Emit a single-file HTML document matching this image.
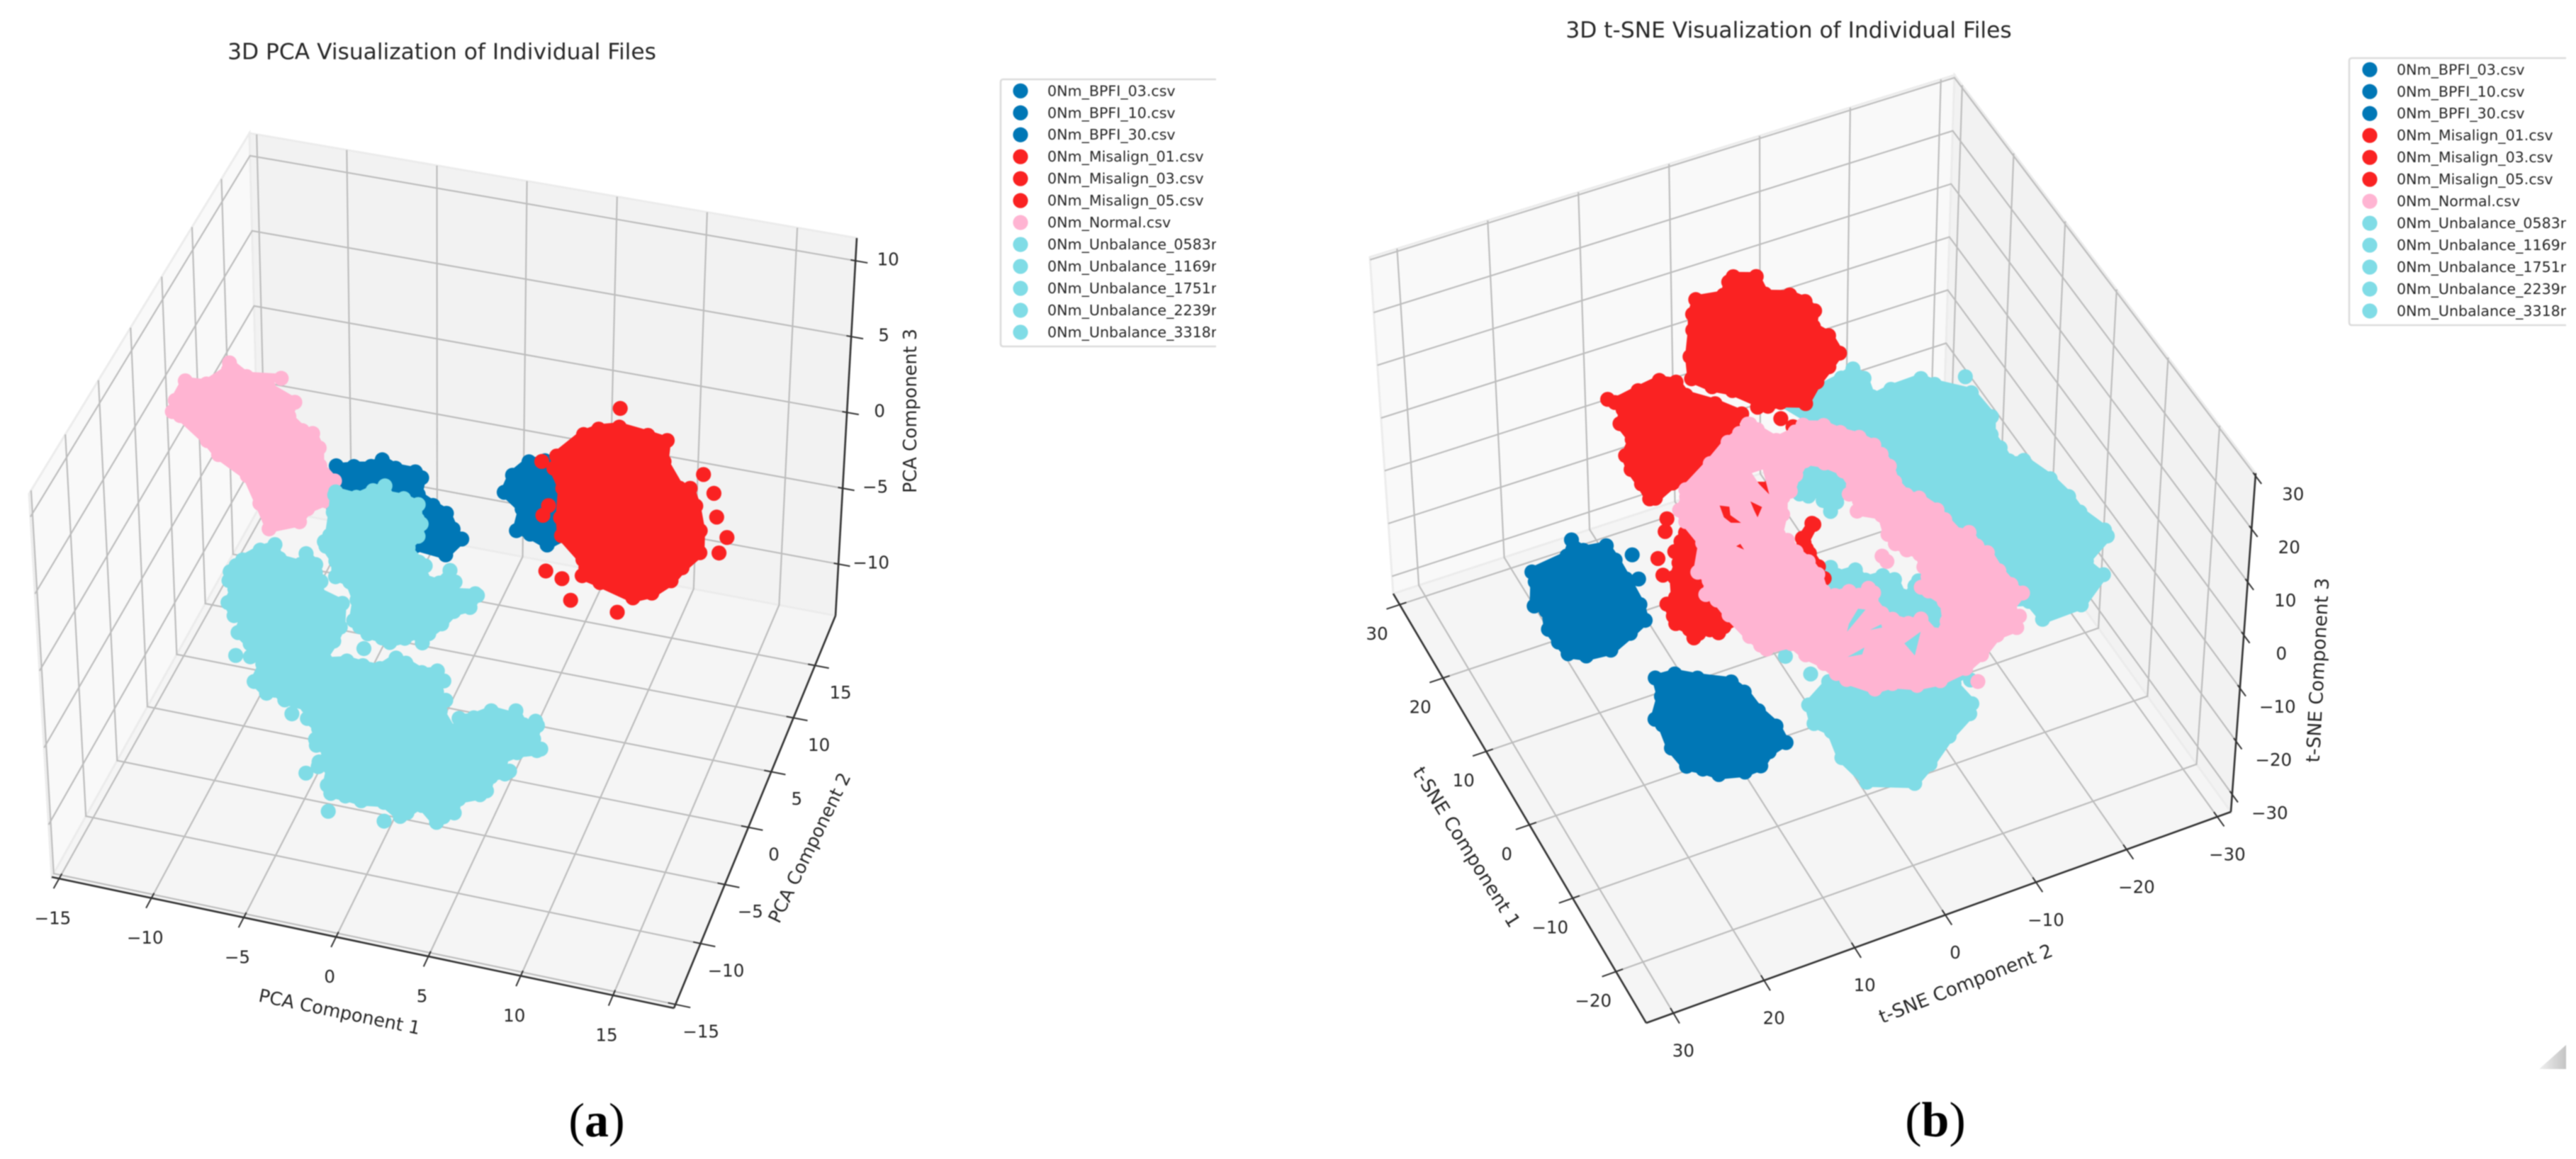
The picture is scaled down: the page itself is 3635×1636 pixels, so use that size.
<!DOCTYPE html>
<html lang="en">
<head>
<meta charset="utf-8">
<title>3D PCA and t-SNE Visualization of Individual Files</title>
<style>
html,body{margin:0;padding:0;background:#fff;}
#figure{display:block;filter:blur(0.9px);}
text{font-family:"DejaVu Sans","Liberation Sans",sans-serif;fill:#262626;}
.caption{font-family:"Liberation Serif",serif;fill:#000;}
</style>
</head>
<body>
<svg id="figure" xmlns="http://www.w3.org/2000/svg" width="3635" height="1636" viewBox="0 0 3635 1636">
  <defs>
    <clipPath id="clip-legend-a"><rect x="1400" y="100" width="316" height="400"/></clipPath>
    <clipPath id="clip-legend-b"><rect x="3300" y="70" width="321" height="400"/></clipPath>
    <linearGradient id="corner-fill" x1="0" y1="0" x2="1" y2="0"><stop offset="0" stop-color="#efefef"/><stop offset="1" stop-color="#c4c4c4"/></linearGradient>
  </defs>
  <rect x="0" y="0" width="3635" height="1636" fill="#fff"/>
  <g id="panel-a"></g>
  <g id="panel-b"></g>
  <g id="legend-a" clip-path="url(#clip-legend-a)"></g>
  <g id="legend-b" clip-path="url(#clip-legend-b)"></g>
  <text class="caption" x="842" y="1604" text-anchor="middle" font-size="68">(<tspan font-weight="bold">a</tspan>)</text>
  <text class="caption" x="2731" y="1604" text-anchor="middle" font-size="70">(<tspan font-weight="bold">b</tspan>)</text>
  <polygon points="3583,1509 3621,1509 3621,1475" fill="url(#corner-fill)"/>
</svg>
<script>
/* ---------- legend ---------- */
const legendLabels = ["0Nm_BPFI_03.csv","0Nm_BPFI_10.csv","0Nm_BPFI_30.csv","0Nm_Misalign_01.csv","0Nm_Misalign_03.csv","0Nm_Misalign_05.csv","0Nm_Normal.csv","0Nm_Unbalance_0583rpm.csv","0Nm_Unbalance_1169rpm.csv","0Nm_Unbalance_1751rpm.csv","0Nm_Unbalance_2239rpm.csv","0Nm_Unbalance_3318rpm.csv"];

/* ---------- tick labels ---------- */
const pcaXTicks = [-15,-10,-5,0,5,10,15];
const pcaYTicks = [-15,-10,-5,0,5,10,15];
const pcaZTicks = [-10,-5,0,5,10];
const tsneXTicks = [-20,-10,0,10,20,30];
const tsneYTicks = [-30,-20,-10,0,10,20,30];
const tsneZTicks = [-30,-20,-10,0,10,20,30];

/* ---------- PCA series: [component1, component2, component3] ---------- */
const pcaNormal = [[-10.1,0,10.7],[-9.2,0,10],[-7.3,0,10.3],[-7.9,0,9.5],[-6.5,0,8.8],[-6.8,0,7.7],[-6.2,0,7.1],[-5.6,0,7],[-5.2,0,6],[-5.2,0,4.9],[-4.4,0,4],[-4.9,0,2.3],[-6,0,1.5],[-6.5,0,0.5],[-8.4,0,-0.4],[-9,0,1.3],[-9.6,0,2.9],[-11.1,0,3.9],[-11.7,0,4.7],[-13.1,0,6],[-13.6,0,6.3],[-13.4,0,7.3],[-12.7,0,8.9],[-11.5,0,9],[-10.4,0,10.1]];
const pcaBpfiRight = [[-6.4,5,1.2],[-5.2,5,1.6],[-4.3,5,1.8],[-3.6,5,2.4],[-2.8,5,2],[-1.7,5,2],[-1.2,5,1.5],[-1.4,5,0.4],[-0.7,5,0],[0.1,5,-0.4],[0.5,5,-1.4],[1,5,-2.2],[-0.1,5,-3.7],[-1.9,5,-3.5],[-5.2,5,-2.9],[-6.6,5,-1.9]];
const pcaBpfiLeft = [[2.8,5,1.3],[3.3,5,2.8],[4.3,5,4],[5.4,5,4.3],[7.6,5,2.7],[7.6,5,0],[5.5,5,-1.8],[4.4,5,-1.3],[3.5,5,-1.1],[3.8,5,0.4]];
const pcaMisalign = [[5.7,5,4.6],[7.2,5,6.4],[8.1,5,7],[9.3,5,7.4],[10.9,5,7.2],[12.1,5,7],[12,5,5.5],[12.8,5,4.1],[13.4,5,4.2],[13.8,5,3],[14.1,5,1.4],[14.1,5,-0.2],[13.1,5,-1.5],[12.5,5,-2.5],[11.4,5,-3.6],[10.2,5,-4.2],[8.3,5,-3.6],[7.2,5,-3.3],[7.2,5,-2.2],[6,5,-0.9],[5.9,5,0.4],[6,5,2.3],[5.5,5,3.5]];
const pcaMisalignStray = [[9.3,5,8.3],[5.1,5,3.9],[13.9,5,5],[14.5,5,3.9],[14.7,5,2.4],[15.3,5,1.2],[14.9,5,0.1],[5.4,5,-3.2],[6.3,5,-3.5],[6.8,5,-4.8],[9.4,5,-5],[5.2,5,0.4],[5.5,5,1.1]];
const pcaUnbalanceUpper = [[-3,-5,7.4],[-1.9,-5,7.3],[-1.1,-5,7.9],[-0.3,-5,8.4],[-0.2,-5,7.8],[0.7,-5,7.8],[1.6,-5,7.5],[1.6,-5,6.4],[1.8,-5,6.1],[1.6,-5,5.1],[1.1,-5,4.4],[1.6,-5,3.8],[2,-5,3.5],[1.8,-5,2.8],[2.4,-5,2.7],[3.1,-5,3.7],[3.6,-5,2.8],[3.3,-5,2.3],[4.5,-5,2.5],[4.8,-5,2.1],[4.3,-5,1],[3.4,-5,0.5],[2.8,-5,-0.4],[2.1,-5,-1.2],[1.6,-5,-2],[1.3,-5,-1.5],[0.7,-5,-1.9],[-0.2,-5,-2.4],[-0.7,-5,-2.2],[-1.5,-5,-2.1],[-2,-5,-1.7],[-2.4,-5,-1.2],[-2.2,-5,0.2],[-2.5,-5,1.1],[-3.3,-5,1.3],[-3.3,-5,2.4],[-3.8,-5,3.2],[-3.9,-5,3.7],[-3.6,-5,4.2],[-3.4,-5,5.7],[-3.3,-5,6.9]];
const pcaUnbalanceLower = [[-8.2,-5,1.7],[-7.2,-5,2.6],[-6.2,-5,3.2],[-5.9,-5,2.3],[-5,-5,2.2],[-4.6,-5,3],[-3.9,-5,2.3],[-3.9,-5,1.7],[-3.6,-5,1.1],[-3.9,-5,0.6],[-2.5,-5,0.1],[-2.6,-5,-1.7],[-3,-5,-2.8],[-3.5,-5,-3.8],[-2.5,-5,-3.5],[-1.6,-5,-3.6],[-0.8,-5,-3.6],[0.1,-5,-2.7],[0.8,-5,-2.9],[1.6,-5,-3.3],[2.5,-5,-3],[3,-5,-3.8],[2.6,-5,-4.6],[3.1,-5,-5],[2.8,-5,-5.8],[3.3,-5,-6.7],[3.4,-5,-5.9],[4.3,-5,-5.6],[5.3,-5,-4.9],[6.5,-5,-5],[6.8,-5,-4.6],[7.2,-5,-5.4],[7.8,-5,-5],[8.1,-5,-5.5],[7.9,-5,-6.4],[8.3,-5,-7],[7.9,-5,-7.5],[6.8,-5,-7.9],[6.1,-5,-8.4],[6.6,-5,-8.8],[6.2,-5,-9.4],[5.5,-5,-9.7],[5.3,-5,-10.6],[4.8,-5,-11.1],[3.7,-5,-11.6],[3.5,-5,-12.5],[2.8,-5,-13],[2.2,-5,-13.5],[1.4,-5,-12.6],[0.8,-5,-13.2],[0.2,-5,-13.6],[-0.7,-5,-12.9],[-1.9,-5,-13.1],[-2.8,-5,-13],[-3.7,-5,-13],[-4,-5,-12.3],[-3.8,-5,-11.2],[-4.4,-5,-11.4],[-4.4,-5,-10.7],[-3.9,-5,-10.2],[-4.5,-5,-10],[-4.6,-5,-9.4],[-4.4,-5,-8.8],[-5,-5,-8.3],[-4.9,-5,-7.6],[-6.1,-5,-7.5],[-6.6,-5,-7],[-7.1,-5,-7.3],[-7.9,-5,-6.5],[-7.4,-5,-5.2],[-8,-5,-4.2],[-8.7,-5,-3.5],[-8.3,-5,-2.3],[-8.8,-5,-2.6],[-9.2,-5,-1.6],[-8.8,-5,-0.6],[-9.1,-5,-0.2],[-9,-5,0.6],[-8.6,-5,1.2]];
const pcaUnbalanceStray = [[-8.6,-5,-4.9],[-7.8,-5,-4.8],[-5.6,-5,-8],[-4.9,-5,-11.7],[-3.7,-5,-13.9],[-0.6,-5,-13.8],[-1.6,-5,-2.8]];

/* ---------- t-SNE series: [component1, component2, component3] ---------- */
const tsneMisalignTop = [[29.3,-5.7,10],[28.3,-8.1,10],[25.9,-7.8,10],[25,-9.9,10],[23.5,-11,10],[21.7,-11.3,10],[20,-10.2,10],[18.5,-11,10],[15.6,-10.8,10],[14.1,-8.7,10],[12.8,-6.7,10],[10.6,-4.1,10],[11.7,-1.7,10],[11.8,-0.2,10],[15,2.1,10],[16.2,3.7,10],[18.2,5.2,10],[21.2,3.9,10],[24.2,2,10],[26.1,1,10],[28,-0.6,10],[27.5,-3.5,10],[28.7,-4.5,10]];
const tsneMisalignMid = [[19.1,14.1,10],[19.1,13,10],[19.6,10.2,10],[20,7.5,10],[19,5.8,10],[17.1,5.7,10],[15.1,3.6,10],[12.6,1.7,10],[10.8,3.6,10],[8.6,6.4,10],[6.9,9.8,10],[6.5,12.6,10],[5.4,15.1,10],[5.8,16.1,10],[8,16,10],[10.1,16.1,10],[12.2,15.7,10],[13.7,14.2,10],[15.9,14.4,10],[17.3,13.3,10]];
const tsneMisalignLow = [[1.4,14.5,10],[0.5,15.5,10],[-0.6,16.8,10],[-2.1,17.1,10],[-3.5,18.3,10],[-5.8,19.3,10],[-6.3,20.5,10],[-8.2,20.7,10],[-9.4,20.9,10],[-10.6,20,10],[-11.9,20,10],[-11.7,19,10],[-11.7,18,10],[-12.4,17.3,10],[-11.9,16.3,10],[-11.6,14.6,10],[-11.7,6.9,10],[-9.3,5.6,10],[-6.4,6.4,10],[-2.8,6.5,10],[3.3,3.3,10],[5.1,7.4,10],[2.9,11.7,10]];
const tsneMisalignInner = [[-2.3,2.5,10],[-3.3,2,10],[-5.1,4,10],[-6.1,4,10],[-8.1,4,10],[-10.3,4.8,10],[-8.2,5.3,10],[-6.2,6.2,10],[-5.3,4.9,10],[-3.9,4.6,10]];
const tsneMisalignStray = [[12.6,0.4,10],[10.4,-1,10],[9,-1.6,10],[1.8,16.1,10],[-3.1,18.8,10],[-1,18.3,10],[3.2,15.2,10]];
const tsneBpfiLeft = [[5,24.9,10],[3.3,24.2,10],[2.9,21.8,10],[0.6,21.7,10],[-2,21.8,10],[-5.5,22,10],[-7.9,22.6,10],[-9,24.9,10],[-10.2,27.7,10],[-9.9,30.4,10],[-8.8,32.1,10],[-6.9,32.4,10],[-4.9,32.6,10],[-2.8,31.8,10],[-1.7,32.6,10],[1.2,31.1,10],[2.8,30.5,10],[3.3,26.4,10]];
const tsneBpfiLeftStray = [[0.4,20.4,10],[-2.6,21.2,10]];
const tsneBpfiLower = [[-1.9,19.8,-10],[-2.1,17.3,-10],[-3.5,15.4,-10],[-5.3,12.5,-10],[-7.2,11.8,-10],[-9.9,11.6,-10],[-12.4,10.9,-10],[-15.2,11.1,-10],[-15.8,13.4,-10],[-17.1,15,-10],[-17.2,17,-10],[-16.4,19.6,-10],[-15.1,20.8,-10],[-14,22.2,-10],[-11.1,22.6,-10],[-8.1,22.1,-10],[-6.9,22.4,-10],[-4.5,20.5,-10]];
const tsneUnbalanceUpper = [[12.4,-1.4,10],[12.8,-5.5,10],[13.4,-9,10],[14,-10.9,10],[12.1,-11.5,10],[9.9,-11,10],[10.2,-12.8,10],[10.3,-16.3,10],[9,-17.3,10],[6.5,-20.1,10],[2.6,-20.4,10],[0.4,-19.2,10],[-1.3,-19.2,10],[-2.9,-19.1,10],[-3.4,-20.4,10],[-6.7,-21.6,10],[-9.6,-22.1,10],[-11.8,-22.1,10],[-14.9,-23.1,10],[-16.4,-22.7,10],[-18.3,-19.5,10],[-20.6,-20.1,10],[-23.5,-16,10],[-23.6,-11.5,10],[-20.9,-11.3,10],[-19.7,-8.3,10],[-9.6,-8.1,10],[-0.7,-5.8,10],[5.9,-4.6,10]];
const tsneUnbalanceUpperStray = [[8.2,-20.1,10]];
const tsneUnbalanceInner = [[4.5,-0.8,10],[3.7,-2.7,10],[1.4,-3.4,10],[-0.4,-3,10],[-1.9,-1.1,10],[-2.8,0.5,10],[-0.9,0.7,10],[0.2,0.7,10],[-0.2,1.5,10],[0.9,2.4,10],[3.3,1,10]];
const tsneUnbalanceCenter = [[-8.3,3.8,10],[-9.3,3.1,10],[-9.4,1.1,10],[-11,0.8,10],[-11.1,-0.9,10],[-12.3,-1.9,10],[-14.4,-1.6,10],[-13.6,-2.7,10],[-13.3,-3.9,10],[-16.9,-4.1,10],[-19.6,-3.2,10],[-23.3,-1,10],[-19.7,7.4,10],[-13.3,6.7,10]];
const tsneUnbalanceCenterStray = [[-17.1,12.6,10],[-20.1,11.4,10]];
const tsneUnbalanceBottom = [[-9,3.9,-10],[-11.1,7.6,-10],[-14,8.4,-10],[-15.6,7.3,-10],[-19,7.9,-10],[-23.1,7,-10],[-25.3,2.6,-10],[-23.6,-0.2,-10],[-21.2,-3.5,-10],[-19.4,-6.7,-10],[-17.8,-7.8,-10],[-14.9,-7.4,-10],[-14.5,-8.9,-10]];
const tsneNormalOuter = [[11.4,1.7,10],[10.4,1.3,10],[8.6,0.4,10],[8.9,-1.5,10],[9.4,-2.8,10],[8.5,-4.8,10],[7,-5.9,10],[5.7,-7.3,10],[4.1,-8.2,10],[2.6,-8.3,10],[0.8,-8.3,10],[-1.2,-7.8,10],[-2.9,-8,10],[-3.7,-8.9,10],[-5.9,-9.8,10],[-7.4,-9.9,10],[-9.6,-10.2,10],[-9.7,-11.2,10],[-11.7,-11.1,10],[-12.9,-11.6,10],[-15.5,-11.5,10],[-17.5,-11.7,10],[-19.4,-12.1,10],[-20.8,-10,10],[-21.8,-10.5,10],[-23.5,-9.2,10],[-23.6,-7,10],[-25.2,-4.6,10],[-26.2,-2.3,10],[-26.6,0.7,10],[-26.2,3.1,10],[-25,5.1,10],[-24.9,7,10],[-22.6,9,10],[-21.4,9.6,10],[-19.8,10.1,10],[-18.1,11.2,10],[-16.4,11.7,10],[-16.1,14.1,10],[-15.2,14.6,10],[-13.7,15.1,10],[-10.4,15.7,10],[-8.3,15.9,10],[-7,16.6,10],[-5.5,15.5,10],[-4,16,10],[-0.9,13.9,10],[2,14.2,10],[3.9,14,10],[5.3,12.5,10],[6.3,12,10],[8.4,8.2,10],[10.2,5.3,10],[10.8,3.7,10],[11.6,2.3,10]];
const tsneNormalHole = [[4,-0.5,10],[3.1,-1.8,10],[1.6,-2.9,10],[-0.1,-2.9,10],[-1,-2,10],[-2.2,-2.5,10],[-3.6,-1.7,10],[-5,-3.6,10],[-7.2,-3,10],[-8.8,-3.1,10],[-10.1,-3.8,10],[-10.9,-4.6,10],[-12.3,-4.2,10],[-13.3,-4.1,10],[-14.4,-2.8,10],[-15.6,-3.2,10],[-17.2,-3.9,10],[-19.2,-3.1,10],[-20.1,-2.1,10],[-17.7,-1.8,10],[-17.6,-0.3,10],[-16.6,0.7,10],[-15.7,1.2,10],[-13.9,1.3,10],[-13.2,0.7,10],[-12,1.1,10],[-12.4,2.4,10],[-11.6,3,10],[-11.5,4.5,10],[-11,5,10],[-8.9,4.5,10],[-6.9,4.6,10],[-5.3,5.1,10],[-3.6,5.2,10],[-3,5.7,10],[-1,4.2,10],[0.9,3.2,10],[1.2,2.3,10],[2.9,0.8,10]];
const tsneNormalGapA = [[5.2,4.9,10],[5.2,3.7,10],[2.1,4.6,10],[3.7,4.9,10]];
const tsneNormalGapB = [[2.7,9.7,10],[2.2,8.9,10],[1.2,9.3,10],[-0.1,8.8,10],[0.3,9.7,10],[1.2,10,10]];
const tsneNormalGapC = [[2,6.7,10],[0.9,6,10],[-0.1,7,10],[0.8,6.9,10]];
const tsneNormalGapD = [[-2.6,10.6,10],[-2.5,10.1,10],[-3.3,10.1,10]];
const tsneNormalGapE = [[-14.5,3.5,10],[-14.9,2.9,10],[-16.7,5.8,10],[-15.9,5.2,10]];
const tsneNormalGapF = [[-17.4,3.7,10],[-17.2,2.4,10],[-17.6,2.5,10]];
const tsneNormalGapG = [[-20.3,1.5,10],[-19.6,-0.6,10],[-22.1,1.3,10]];
const tsneNormalGapH = [[-19.6,7.2,10],[-19.2,5.2,10],[-19.9,5.8,10]];
const tsneNormalStray = [[-27.6,-2.6,10],[-9.4,-1.7,10],[-10.2,-1.8,10]];

/* ---------- rendering ---------- */
const SVGNS = 'http://www.w3.org/2000/svg';
const seriesColor = {bpfi:'#0077b6', misalign:'#fa2222', normal:'#ffb4d2', unbalance:'#80dce6'};
const MARKER_R = 10.6;
const EDGE_INSET = 7;

function svgEl(tag, attrs, parent){
  const el = document.createElementNS(SVGNS, tag);
  for (const k in attrs) el.setAttribute(k, attrs[k]);
  if (parent) parent.appendChild(el);
  return el;
}
function lerp(a,b,t){ return [a[0]+(b[0]-a[0])*t, a[1]+(b[1]-a[1])*t]; }
function makeProjection(c){
  return function(x,y,z){
    const u=(x-c.xlim[0])/(c.xlim[1]-c.xlim[0]);
    const v0=(y-c.ylim[0])/(c.ylim[1]-c.ylim[0]);
    const v=v0/(c.warp+(1-c.warp)*v0);
    const w=(z-c.zlim[0])/(c.zlim[1]-c.zlim[0]);
    const f=lerp(lerp(c.floor[0],c.floor[1],u),lerp(c.floor[3],c.floor[2],u),v);
    const t=lerp(lerp(c.ceil[0],c.ceil[1],u),lerp(c.ceil[3],c.ceil[2],u),v);
    return lerp(f,t,w);
  };
}
function pts2str(list){ return list.map(p=>p[0].toFixed(1)+','+p[1].toFixed(1)).join(' '); }
function minusText(v){ return String(v).replace('-','\u2212'); }

/* offset each outline vertex along its local normal; positive = towards the polygon interior */
function offsetOutline(screen, amount){
  const n=screen.length;
  let area=0;
  for(let i=0;i<n;i++){
    const a=screen[i], b=screen[(i+1)%n];
    area+=a[0]*b[1]-b[0]*a[1];
  }
  const sign=area>0?1:-1;
  return screen.map((p,i)=>{
    const prev=screen[(i-1+n)%n], next=screen[(i+1)%n];
    const tx=next[0]-prev[0], ty=next[1]-prev[1];
    const d=Math.hypot(tx,ty)||1;
    return [p[0]-ty/d*sign*amount, p[1]+tx/d*sign*amount];
  });
}
function pathOf(list){ return 'M'+list.map(p=>p[0].toFixed(1)+' '+p[1].toFixed(1)).join('L')+'Z'; }

function drawPoints(parent, list, color){
  list.forEach(p=>{
    const dot = svgEl('circle',{cx:p[0].toFixed(1),cy:p[1].toFixed(1),r:MARKER_R,fill:color},parent);
    
    
  });
}
function drawCluster(panel, P, name, color, outline, stray, holes, gaps){
  const g = svgEl('g',{},panel);
  
  
  const toScreen = a => a.map(p=>P(p[0],p[1],p[2]));
  const outer = toScreen(outline);
  let d = pathOf(outer);
  (holes||[]).forEach(h=>{ d += pathOf(toScreen(h)); });
  (gaps||[]).forEach(h=>{ d += pathOf(toScreen(h)); });
  const body = svgEl('path',{d:d,fill:color,'fill-rule':'evenodd'},g);
  
  
  drawPoints(g, offsetOutline(outer, EDGE_INSET), color);
  (holes||[]).forEach(h=>{ drawPoints(g, offsetOutline(toScreen(h), -EDGE_INSET), color); });
  if (stray) drawPoints(g, toScreen(stray), color);
}

function drawAxes(panel, c, P){
  const [x0,x1]=c.xlim, [y0,y1]=c.ylim, [z0,z1]=c.zlim;
  const wx=c.wallX, wy=c.wallY;
  const ax=(wx===x0)?x1:x0, ay=(wy===y0)?y1:y0;
  const panes=[
    ['left-pane',[P(wx,y0,z0),P(wx,y1,z0),P(wx,y1,z1),P(wx,y0,z1)],'#f9f9f9'],
    ['back-pane',[P(x0,wy,z0),P(x1,wy,z0),P(x1,wy,z1),P(x0,wy,z1)],'#f2f2f2'],
    ['floor-pane',[P(x0,y0,z0),P(x1,y0,z0),P(x1,y1,z0),P(x0,y1,z0)],'#f5f5f5']
  ];
  panes.forEach(p=>{
    const pane = svgEl('polygon',{points:pts2str(p[1]),fill:p[2],stroke:'#ececec','stroke-width':3},panel);
    
    
  });
  function gridLine(list){
    const line = svgEl('polyline',{points:pts2str(list),fill:'none',stroke:'#bdbdbd','stroke-width':2.2},panel);
    
    
  }
  c.xTicks.forEach(t=>gridLine([P(t,ay,z0),P(t,wy,z0),P(t,wy,z1)]));
  c.yTicks.forEach(t=>gridLine([P(ax,t,z0),P(wx,t,z0),P(wx,t,z1)]));
  c.zTicks.forEach(t=>gridLine([P(wx,ay,t),P(wx,wy,t),P(ax,wy,t)]));

  function axisLine(a,b,name){
    const line = svgEl('line',{x1:a[0],y1:a[1],x2:b[0],y2:b[1],stroke:'#333','stroke-width':2.6},panel);
    
    
  }
  axisLine(P(x0,ay,z0),P(x1,ay,z0),'x-axis-line');
  axisLine(P(ax,y0,z0),P(ax,y1,z0),'y-axis-line');
  axisLine(P(ax,wy,z0),P(ax,wy,z1),'z-axis-line');

  const sy=Math.sign(ay-wy)*(y1-y0), sx=Math.sign(ax-wx)*(x1-x0);
  function tickMark(a,b){
    const tick = svgEl('line',{x1:a[0],y1:a[1],x2:b[0],y2:b[1],stroke:'#333','stroke-width':2},panel);
    
    
  }
  function tickLabel(p,off,v){
    const label = svgEl('text',{x:p[0]+off[0],y:p[1]+off[1],'text-anchor':'middle','dominant-baseline':'central','font-size':c.tickFont},panel);
    
    
    label.textContent=minusText(v);
  }
  c.xTicks.forEach(t=>{
    tickMark(P(t,ay-sy*0.012,z0),P(t,ay+sy*0.024,z0));
    tickLabel(P(t,ay,z0),c.xOff,t);
  });
  c.yTicks.forEach(t=>{
    tickMark(P(ax-sx*0.012,t,z0),P(ax+sx*0.024,t,z0));
    tickLabel(P(ax,t,z0),c.yOff,t);
  });
  c.zTicks.forEach(t=>{
    tickMark(P(ax-sx*0.008,wy,t),P(ax+sx*0.02,wy,t));
    tickLabel(P(ax,wy,t),c.zOff,t);
  });
  c.labels.forEach(l=>{
    const label = svgEl('text',{x:l.x,y:l.y,transform:'rotate('+l.rot+' '+l.x+' '+l.y+')','text-anchor':'middle','dominant-baseline':'central','font-size':c.labelFont},panel);
    
    
    label.textContent=l.text;
  });
  const title = svgEl('text',{x:c.title.x,y:c.title.y,'text-anchor':'middle','dominant-baseline':'central','font-size':31.3},panel);
  
  
  title.textContent=c.title.text;
}

function drawLegend(group, left, top, right, bottom, cx, tx, firstY){
  const frame = svgEl('path',{d:'M'+right+' '+top+'H'+(left+4)+'Q'+left+' '+top+' '+left+' '+(top+4)+'V'+(bottom-4)+'Q'+left+' '+bottom+' '+(left+4)+' '+bottom+'H'+right,fill:'#fff',stroke:'#dcdcdc','stroke-width':2.6},group);
  
  
  legendLabels.forEach((name,i)=>{
    const key = name.indexOf('BPFI')>=0?'bpfi':name.indexOf('Misalign')>=0?'misalign':name.indexOf('Normal')>=0?'normal':'unbalance';
    const y = firstY+i*30.97;
    const marker = svgEl('circle',{cx:cx,cy:y,r:10.6,fill:seriesColor[key]},group);
    
    
    const label = svgEl('text',{x:tx,y:y,'dominant-baseline':'central','font-size':20.6},group);
    
    
    label.textContent=name;
  });
}

/* ---------- PCA panel ---------- */
const pcaCfg = {
  xlim:[-15.4,18.3], ylim:[-15.3,19.9], zlim:[-13.4,11.5], warp:0.9,
  floor:[[73,1238],[951,1423],[1179,869],[366,716]],
  ceil:[[41,697],[968,874],[1209,336],[352,188]],
  wallX:-15.4, wallY:19.9,
  xTicks:pcaXTicks, yTicks:pcaYTicks, zTicks:pcaZTicks,
  xOff:[-9,56], yOff:[36,38], zOff:[46,-2], tickFont:24.5, labelFont:25.6,
  title:{x:623.5,y:73.5,text:'3D PCA Visualization of Individual Files'},
  labels:[
    {name:'x-axis-title',text:'PCA Component 1',x:479,y:1429,rot:11.7},
    {name:'y-axis-title',text:'PCA Component 2',x:1143,y:1197,rot:-64},
    {name:'z-axis-title',text:'PCA Component 3',x:1285,y:580,rot:-90}
  ]
};
const panelA = document.getElementById('panel-a');
const pcaP = makeProjection(pcaCfg);
drawAxes(panelA, pcaCfg, pcaP);
drawCluster(panelA, pcaP, 'bpfi-cluster-right', seriesColor.bpfi, pcaBpfiRight);
drawCluster(panelA, pcaP, 'bpfi-cluster-left', seriesColor.bpfi, pcaBpfiLeft);
drawCluster(panelA, pcaP, 'normal-cluster', seriesColor.normal, pcaNormal);
drawCluster(panelA, pcaP, 'unbalance-cluster-lower', seriesColor.unbalance, pcaUnbalanceLower, pcaUnbalanceStray);
drawCluster(panelA, pcaP, 'unbalance-cluster-upper', seriesColor.unbalance, pcaUnbalanceUpper);
drawCluster(panelA, pcaP, 'misalign-cluster', seriesColor.misalign, pcaMisalign, pcaMisalignStray);
drawLegend(document.getElementById('legend-a'), 1412, 112, 1716, 489, 1440, 1478, 128.3);

/* ---------- t-SNE panel ---------- */
const tsneCfg = {
  xlim:[-27,31.5], ylim:[-31.5,33], zlim:[-33.3,30.5], warp:1,
  floor:[[3148,1146],[2743,584],[1966,838],[2323,1444]],
  ceil:[[3183,668],[2758,106],[1933,363],[2308,969]],
  wallX:31.5, wallY:-31.5,
  xTicks:tsneXTicks, yTicks:tsneYTicks, zTicks:tsneZTicks,
  xOff:[-32,41], yOff:[14,53], zOff:[53,26], tickFont:24.5, labelFont:26.5,
  title:{x:2524,y:43,text:'3D t-SNE Visualization of Individual Files'},
  labels:[
    {name:'x-axis-title',text:'t-SNE Component 1',x:2069,y:1196,rot:58},
    {name:'y-axis-title',text:'t-SNE Component 2',x:2774,y:1389,rot:-21.6},
    {name:'z-axis-title',text:'t-SNE Component 3',x:3271,y:946,rot:-87}
  ]
};
const panelB = document.getElementById('panel-b');
const tsneP = makeProjection(tsneCfg);
drawAxes(panelB, tsneCfg, tsneP);
drawCluster(panelB, tsneP, 'unbalance-cluster-upper', seriesColor.unbalance, tsneUnbalanceUpper, tsneUnbalanceUpperStray);
drawCluster(panelB, tsneP, 'unbalance-cluster-bottom', seriesColor.unbalance, tsneUnbalanceBottom);
drawCluster(panelB, tsneP, 'unbalance-cluster-center', seriesColor.unbalance, tsneUnbalanceCenter, tsneUnbalanceCenterStray);
drawCluster(panelB, tsneP, 'unbalance-cluster-inner', seriesColor.unbalance, tsneUnbalanceInner);
drawCluster(panelB, tsneP, 'misalign-cluster-top', seriesColor.misalign, tsneMisalignTop, tsneMisalignStray);
drawCluster(panelB, tsneP, 'misalign-cluster-mid', seriesColor.misalign, tsneMisalignMid);
drawCluster(panelB, tsneP, 'misalign-cluster-low', seriesColor.misalign, tsneMisalignLow);
drawCluster(panelB, tsneP, 'misalign-cluster-inner', seriesColor.misalign, tsneMisalignInner);
drawCluster(panelB, tsneP, 'bpfi-cluster-left', seriesColor.bpfi, tsneBpfiLeft, tsneBpfiLeftStray);
drawCluster(panelB, tsneP, 'bpfi-cluster-lower', seriesColor.bpfi, tsneBpfiLower);
drawCluster(panelB, tsneP, 'normal-ring', seriesColor.normal, tsneNormalOuter, tsneNormalStray, [tsneNormalHole], [tsneNormalGapA,tsneNormalGapB,tsneNormalGapC,tsneNormalGapD,tsneNormalGapE,tsneNormalGapF,tsneNormalGapG,tsneNormalGapH]);
drawLegend(document.getElementById('legend-b'), 3315, 82, 3621, 459, 3344, 3382, 98.3);
</script>
</body>
</html>
